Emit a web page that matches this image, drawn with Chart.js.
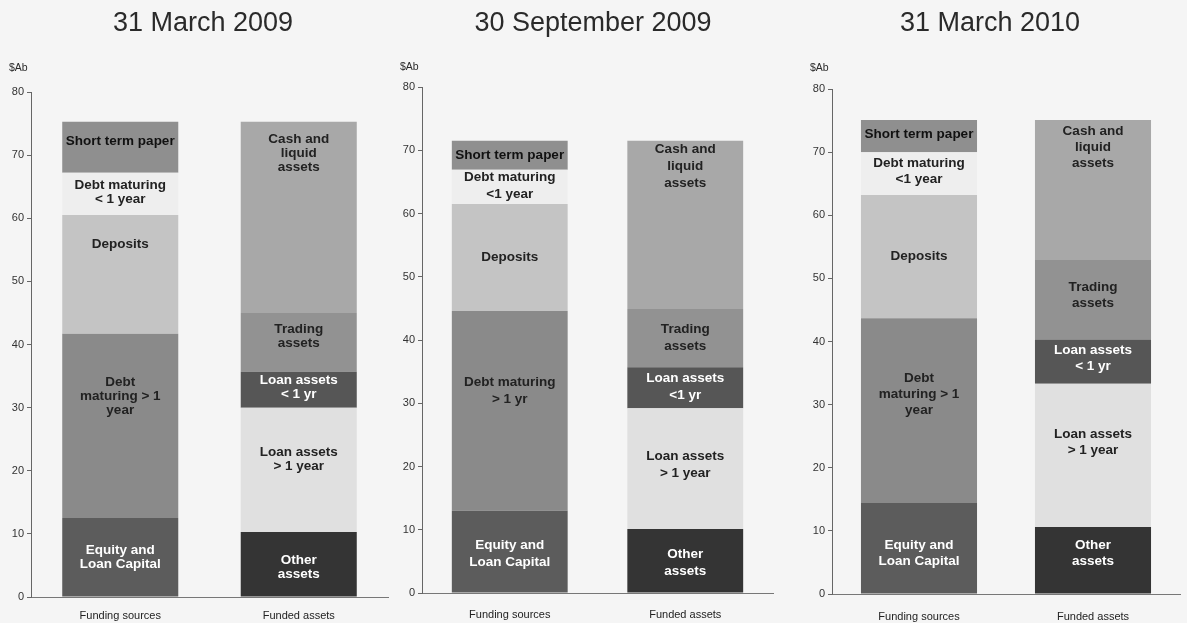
<!DOCTYPE html>
<html>
<head>
<meta charset="utf-8">
<script src="https://cdn.jsdelivr.net/npm/chart.js@4.4.1/dist/chart.umd.min.js"></script>
<style>
  html, body { margin: 0; padding: 0; background: #f5f5f5; }
  .panel { position: absolute; top: 0; height: 623px; }
</style>
</head>
<body>
<div class="panel" style="left:0;width:390px"><canvas id="p1"></canvas></div>
<div class="panel" style="left:390px;width:390px"><canvas id="p2"></canvas></div>
<div class="panel" style="left:780px;width:407px"><canvas id="p3"></canvas></div>
<script>
// categories and titles
const categories = ["Funding sources", "Funded assets"];
const panelTitles = ["31 March 2009", "30 September 2009", "31 March 2010"];
const unitLabel = "$Ab";
const yTicks = [0, 10, 20, 30, 40, 50, 60, 70, 80];

// stack levels, bottom to top
const fundingNames = ["Equity and Loan Capital", "Debt maturing > 1 year", "Deposits", "Debt maturing < 1 year", "Short term paper"];
const assetNames = ["Other assets", "Loan assets > 1 year", "Loan assets < 1 yr", "Trading assets", "Cash and liquid assets"];

// $Ab
const fundingMar09 = [12.5, 29.2, 18.8, 6.7, 8.1];
const assetsMar09 = [10.3, 19.7, 5.7, 9.3, 30.3];
const fundingSep09 = [13.0, 31.6, 16.9, 5.4, 4.6];
const assetsSep09 = [10.1, 19.1, 6.5, 9.2, 26.6];
const fundingMar10 = [14.4, 29.3, 19.5, 6.8, 5.1];
const assetsMar10 = [10.6, 22.7, 7.0, 12.6, 22.2];

// text printed inside the segments
const fundingTextMar09 = ["Equity and\nLoan Capital", "Debt\nmaturing > 1\nyear", "Deposits", "Debt maturing\n< 1 year", "Short term paper"];
const assetTextMar09 = ["Other\nassets", "Loan assets\n> 1 year", "Loan assets\n< 1 yr", "Trading\nassets", "Cash and\nliquid\nassets"];
const fundingTextSep09 = ["Equity and\nLoan Capital", "Debt maturing\n> 1 yr", "Deposits", "Debt maturing\n<1 year", "Short term paper"];
const assetTextSep09 = ["Other\nassets", "Loan assets\n> 1 year", "Loan assets\n<1 yr", "Trading\nassets", "Cash and\nliquid\nassets"];
const fundingTextMar10 = ["Equity and\nLoan Capital", "Debt\nmaturing > 1\nyear", "Deposits", "Debt maturing\n<1 year", "Short term paper"];
const assetTextMar10 = ["Other\nassets", "Loan assets\n> 1 year", "Loan assets\n< 1 yr", "Trading\nassets", "Cash and\nliquid\nassets"];

// styles
const fundingColors = ["#5c5c5c", "#8a8a8a", "#c4c4c4", "#eeeeee", "#8f8f8f"];
const assetColors = ["#343434", "#e0e0e0", "#565656", "#929292", "#a8a8a8"];
const fundingInk = ["#ffffff", "#222222", "#222222", "#222222", "#111111"];
const assetInk = ["#ffffff", "#222222", "#ffffff", "#222222", "#222222"];
const FONT = '"Liberation Sans", Arial, sans-serif';

const segmentLabels = {
  id: "segmentLabels",
  afterDatasetsDraw(chart, args, opts) {
    const ctx = chart.ctx;
    ctx.save();
    ctx.font = "bold 13.5px " + FONT;
    ctx.textAlign = "center";
    ctx.textBaseline = "middle";
    chart.data.datasets.forEach((ds, i) => {
      chart.getDatasetMeta(i).data.forEach((bar, j) => {
        const p = bar.getProps(["x", "y", "base"], true);
        const lines = opts.text[j][i].split("\n");
        const cy = (p.y + p.base) / 2 + opts.shift[j][i];
        ctx.fillStyle = (j === 0 ? fundingInk : assetInk)[i];
        lines.forEach((ln, k) => {
          ctx.fillText(ln, p.x, cy + (k - (lines.length - 1) / 2) * opts.lineHeight);
        });
      });
    });
    ctx.restore();
  }
};

const panelText = {
  id: "panelText",
  afterDraw(chart, args, opts) {
    const ctx = chart.ctx;
    ctx.save();
    ctx.fillStyle = "#2a2a2a";
    ctx.textBaseline = "middle";
    ctx.textAlign = "center";
    ctx.font = "27px " + FONT;
    ctx.fillText(opts.title, opts.titleX, 24);
    ctx.font = "10.5px " + FONT;
    ctx.textAlign = "left";
    ctx.fillText(unitLabel, chart.chartArea.left - 22, opts.unitY);
    ctx.restore();
  }
};

function makePanel(id, title, funding, assets, fundingText, assetText, look) {
  const datasets = funding.map((v, i) => ({
    label: fundingNames[i] + " / " + assetNames[i],
    data: [v, assets[i]],
    backgroundColor: [fundingColors[i], assetColors[i]],
    borderWidth: 0,
    stack: "s",
    categoryPercentage: 1,
    barPercentage: look.barPct
  }));
  new Chart(document.getElementById(id), {
    type: "bar",
    data: { labels: categories, datasets },
    options: {
      responsive: true,
      maintainAspectRatio: false,
      animation: false,
      events: [],
      layout: { padding: { top: look.top, left: look.left, right: look.right, bottom: 0 } },
      plugins: {
        legend: { display: false },
        tooltip: { enabled: false },
        segmentLabels: { text: [fundingText, assetText], shift: look.shift, lineHeight: look.lineHeight },
        panelText: { title, titleX: look.titleX, unitY: look.unitY }
      },
      scales: {
        x: {
          stacked: true,
          grid: { display: false },
          border: { display: true, color: "#777", width: 1 },
          ticks: { color: "#222", font: { family: FONT, size: 11 }, padding: look.xPad },
          afterFit: s => { s.height = look.xHeight; }
        },
        y: {
          stacked: true,
          min: yTicks[0],
          max: yTicks[yTicks.length - 1],
          afterBuildTicks: s => { s.ticks = yTicks.map(v => ({ value: v })); },
          grid: { drawOnChartArea: false, drawTicks: true, tickLength: 4, color: "#666" },
          border: { display: true, color: "#666", width: 1 },
          ticks: { color: "#333", font: { family: FONT, size: 11 }, padding: 3 },
          afterFit: s => { s.width = look.yWidth; }
        }
      }
    },
    plugins: [segmentLabels, panelText]
  });
}

makePanel("p1", panelTitles[0], fundingMar09, assetsMar09, fundingTextMar09, assetTextMar09, {
  top: 92, left: 0, right: 2, yWidth: 31, xHeight: 26, xPad: 4, barPct: 0.65,
  titleX: 203, unitY: 68, lineHeight: 14,
  shift: [[0, -30, -30, -2, -6], [3, -11, -2, -6, -64]]
});
makePanel("p2", panelTitles[1], fundingSep09, assetsSep09, fundingTextSep09, assetTextSep09, {
  top: 87, left: 0, right: 7, yWidth: 32, xHeight: 30, xPad: 7, barPct: 0.66,
  titleX: 203, unitY: 67, lineHeight: 17,
  shift: [[2, -20, 0, -1, 0], [2, -4, -1, 0, -59]]
});
makePanel("p3", panelTitles[2], fundingMar10, assetsMar10, fundingTextMar10, assetTextMar10, {
  top: 89, left: 20, right: 7, yWidth: 32, xHeight: 29, xPad: 8, barPct: 0.667,
  titleX: 210, unitY: 68, lineHeight: 16,
  shift: [[5, -16, 0, -2, -2], [-7, -13, -3, -5, -43]]
});
</script>
</body>
</html>
